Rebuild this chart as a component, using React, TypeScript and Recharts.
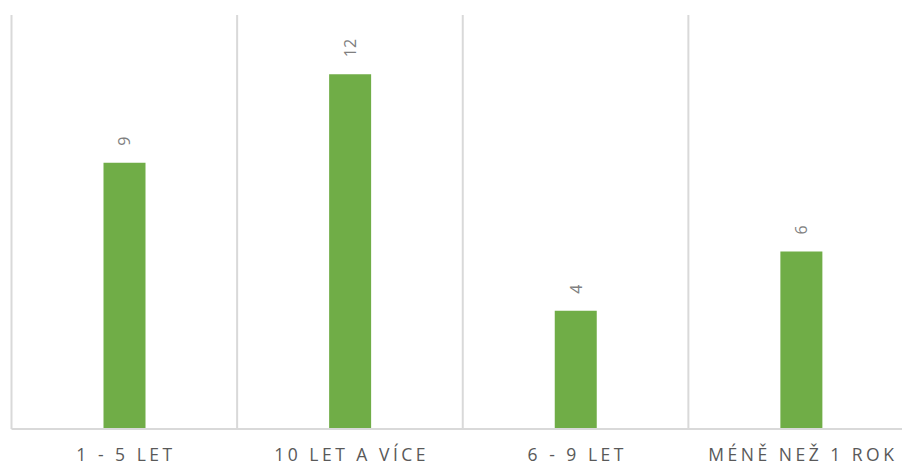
import { BarChart, Bar, XAxis, YAxis, CartesianGrid, LabelList } from 'recharts';

const categories = ['1 - 5 LET', '10 LET A VÍCE', '6 - 9 LET', 'MÉNĚ NEŽ 1 ROK'];
const counts = [9, 12, 4, 6];

const data = categories.map((name, i) => ({ name, value: counts[i] }));

const GRID = '#d9d9d9';
const FONT = '"Open Sans", "Noto Sans", sans-serif';

function CategoryTick({ x = 0, payload }: { x?: number; payload?: { value: string } }) {
  return (
    <text
      x={Number(x) + 1.7}
      y={453.5}
      textAnchor="middle"
      dominantBaseline="central"
      fill="#595959"
      fontSize={17.5}
      fontFamily={FONT}
      letterSpacing={3.5}
    >
      {payload?.value}
    </text>
  );
}

function ValueLabel(props: { x?: number; y?: number; width?: number; value?: number }) {
  const { x = 0, y = 0, width = 0, value } = props;
  const cx = Number(x) + Number(width) / 2;
  const cy = Number(y) - 17;
  return (
    <text
      x={cx}
      y={cy}
      transform={`rotate(-90 ${cx} ${cy})`}
      textAnchor="start"
      dominantBaseline="central"
      fill="#7f7f7f"
      fontSize={16}
      fontFamily={FONT}
    >
      {value}
    </text>
  );
}

export default function App() {
  return (
    <div style={{ position: 'absolute', left: 0, top: 0, width: 902, height: 465, overflow: 'hidden', background: '#fff' }}>
      <BarChart
        width={914}
        height={465}
        data={data}
        margin={{ top: 15, right: 0, left: 11.5, bottom: 0 }}
        barCategoryGap={0}
      >
        <CartesianGrid
          horizontal={false}
          stroke={GRID}
          strokeWidth={2}
          verticalCoordinatesGenerator={({ offset }: any) =>
            categories.map((_, i) => offset.left + (i * offset.width) / categories.length)
          }
        />
        <XAxis
          dataKey="name"
          height={36}
          axisLine={{ stroke: GRID, strokeWidth: 2 }}
          tickLine={false}
          tick={<CategoryTick />}
          interval={0}
        />
        <YAxis hide domain={[0, 14]} />
        <Bar dataKey="value" fill="#70ad47" barSize={42} isAnimationActive={false}>
          <LabelList dataKey="value" content={<ValueLabel />} />
        </Bar>
      </BarChart>
    </div>
  );
}
